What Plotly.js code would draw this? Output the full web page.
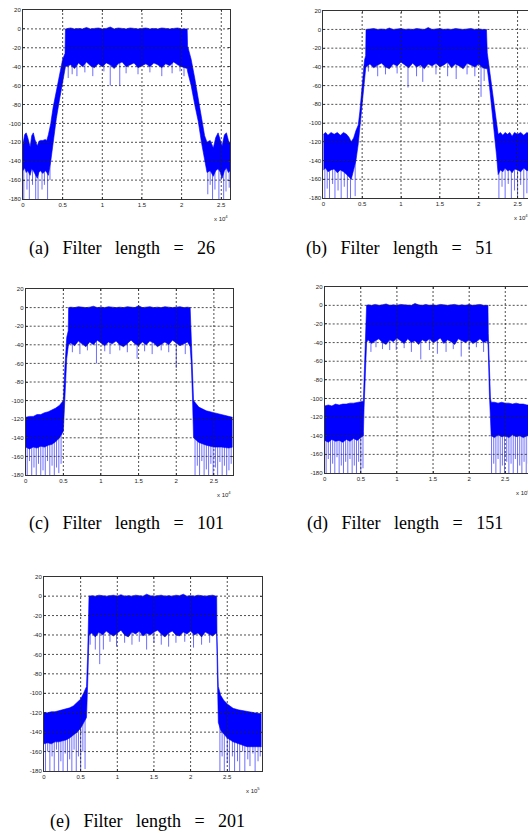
<!DOCTYPE html>
<html>
<head>
<meta charset="utf-8">
<script src="https://cdn.plot.ly/plotly-3.0.1.min.js"></script>
<style>
html,body{margin:0;padding:0;overflow:hidden;background:#fff;}
#plot{width:560px;height:833px;}
</style>
</head>
<body>
<div id="plot"></div>
<script>
// ---------- DATA (x in axis units, y in dB) ----------
var xTickVals = [0, 0.5, 1, 1.5, 2, 2.5];
var xTickText = ['0', '0.5', '1', '1.5', '2', '2.5'];
var yTickVals = [-180, -160, -140, -120, -100, -80, -60, -40, -20, 0, 20];
var yTickText = ['-180', '-160', '-140', '-120', '-100', '-80', '-60', '-40', '-20', '0', '20'];
var captions = ['(a)', '(b)', '(c)', '(d)', '(e)'];
var filterLengths = ['26', '51', '101', '151', '201'];
var exponents = ['4', '4', '4', '4', '5'];

// Panel (a): filter length 26
var aX = [0,0.02,0.04,0.06,0.09,0.11,0.13,0.15,0.18,0.2,0.22,0.25,0.28,0.3,
  0.32,0.35,0.38,0.42,0.46,0.5,0.53,
  0.535,0.6,0.65,0.7,0.75,0.8,0.85,0.9,0.95,1.0,1.05,1.1,1.15,1.2,1.25,1.3,1.35,1.4,1.45,1.5,1.55,1.6,1.65,1.7,1.75,1.8,1.85,1.9,1.95,2.0,2.05,
  2.07,2.075,
  2.12,2.165,2.21,2.25,2.29,
  2.32,2.36,2.4,2.43,2.46,2.49,2.51,2.54,2.565,2.59,2.61];
var aUp = [-122,-112,-110,-115,-125,-113,-110,-117,-124,-119,-118,-118,-117,-118,
  -112,-100,-83,-65,-47,-32,-26,
  0,1,0,0.5,0,1.5,0,0.5,1,0,0.5,2,0,1,0.5,0,1,0.5,0,0.5,1,0,0.5,0,1,0.5,0,0.5,1,0,0,
  0,-18,
  -32,-52,-74,-98,-113,
  -120,-118,-126,-115,-110,-118,-124,-112,-110,-118,-121];
var aLo = [-150,-147,-152,-150,-155,-148,-150,-153,-158,-152,-150,-153,-150,-152,
  -155,-140,-118,-95,-75,-55,-44,
  -40,-38,-42,-36,-40,-35,-39,-41,-37,-40,-36,-38,-42,-37,-35,-40,-38,-36,-41,-39,-37,-40,-36,-38,-41,-37,-39,-35,-38,-40,-42,
  -42,-45,
  -60,-80,-98,-120,-140,
  -152,-150,-156,-150,-148,-152,-158,-150,-147,-152,-150];
var aSpX = [0.01,0.05,0.08,0.12,0.16,0.19,0.24,0.27,0.31,0.34,
  0.57,0.62,0.68,0.78,0.88,1.02,1.10,1.22,1.3,1.45,1.6,1.75,1.88,1.98,2.03,
  2.33,2.36,2.39,2.42,2.47,2.5,2.53,2.56,2.6];
var aSpY = [-180,-170,-180,-165,-180,-180,-170,-165,-180,-160,
  -52,-48,-50,-46,-50,-45,-60,-60,-47,-48,-46,-50,-47,-45,-50,
  -175,-165,-180,-170,-180,-160,-180,-172,-168];

// Panel (b): filter length 51
var bX = [0,0.03,0.06,0.1,0.14,0.18,0.22,0.26,0.3,0.33,0.36,0.39,0.42,0.45,
  0.47,0.49,0.51,0.53,0.545,
  0.55,0.6,0.65,0.7,0.75,0.8,0.85,0.9,0.95,1.0,1.05,1.1,1.15,1.2,1.25,1.3,1.35,1.4,1.45,1.5,1.55,1.6,1.65,1.7,1.75,1.8,1.85,1.9,1.95,2.0,2.05,2.1,
  2.11,2.14,2.17,2.2,2.23,2.25,
  2.28,2.31,2.34,2.37,2.4,2.43,2.46,2.5,2.54,2.58,2.62,2.66];
var bUp = [-112,-110,-113,-110,-112,-110,-113,-110,-112,-115,-120,-116,-108,-102,
  -88,-68,-48,-33,-28,
  0,0.5,1,0,0.5,0,1.5,0,0.5,1,0,0.5,0,1,0.5,0,2,0,0.5,1,0,0.5,0,1,0.5,0,0.5,1,0,0.5,0,0,
  -25,-45,-65,-85,-105,-112,
  -110,-113,-110,-112,-110,-114,-110,-112,-110,-113,-110,-112];
var bLo = [-150,-148,-152,-150,-149,-153,-150,-152,-155,-158,-160,-150,-140,-122,
  -105,-85,-65,-48,-42,
  -40,-37,-41,-38,-36,-40,-42,-37,-39,-35,-38,-41,-36,-40,-38,-42,-37,-39,-36,-40,-38,-35,-41,-37,-39,-42,-36,-38,-40,-37,-41,-42,
  -42,-62,-85,-105,-135,-155,
  -150,-152,-148,-151,-150,-153,-149,-150,-152,-148,-151,-150];
var bSpX = [0.02,0.05,0.08,0.12,0.15,0.19,0.23,0.27,0.31,0.35,0.41,
  0.58,0.7,0.8,0.95,1.09,1.2,1.28,1.45,1.6,1.71,1.85,1.95,2.03,2.07,
  2.26,2.3,2.34,2.38,2.42,2.46,2.5,2.54,2.58,2.62];
var bSpY = [-180,-170,-180,-165,-180,-172,-180,-168,-180,-180,-178,
  -45,-50,-48,-47,-62,-50,-56,-48,-50,-53,-48,-50,-72,-55,
  -180,-168,-180,-165,-180,-172,-180,-166,-180,-175];

// Panel (c): filter length 101
var cX = [0,0.05,0.1,0.15,0.2,0.25,0.3,0.35,0.4,0.45,0.5,
  0.52,0.545,0.565,
  0.57,0.6,0.65,0.7,0.75,0.8,0.85,0.9,0.95,1.0,1.05,1.1,1.15,1.2,1.25,1.3,1.35,1.4,1.45,1.5,1.55,1.6,1.65,1.7,1.75,1.8,1.85,1.9,1.95,2.0,2.05,2.1,2.15,2.185,
  2.2,2.215,2.23,
  2.3,2.4,2.5,2.6,2.7,2.75];
var cUp = [-118,-117,-117,-115,-115,-113,-112,-110,-108,-105,-100,
  -65,-32,-25,
  0,0.5,0,1,0.5,0,0.5,1.5,0,0.5,0,1,0.5,0,0.5,0,1,0.5,0,2,0,0.5,1,0,0.5,0,1,0.5,0,0.5,1,0,0.5,0,
  -35,-65,-100,
  -107,-111,-113,-115,-117,-118];
var cLo = [-150,-152,-150,-151,-149,-150,-148,-147,-144,-140,-133,
  -100,-55,-42,
  -40,-38,-41,-36,-39,-42,-37,-40,-35,-38,-41,-37,-39,-36,-40,-42,-38,-35,-39,-41,-37,-40,-36,-38,-42,-39,-37,-40,-35,-38,-41,-39,-37,-42,
  -60,-95,-140,
  -145,-148,-150,-150,-151,-150];
var cSpX = [0.02,0.05,0.08,0.11,0.14,0.17,0.2,0.23,0.26,0.29,0.32,0.35,0.38,0.41,0.44,0.47,
  0.62,0.72,0.82,0.94,1.05,1.12,1.25,1.35,1.48,1.58,1.68,1.8,1.9,2.0,2.12,
  2.25,2.28,2.31,2.34,2.37,2.4,2.43,2.46,2.49,2.52,2.55,2.58,2.61,2.64,2.67,2.7,2.73];
var cSpY = [-180,-165,-180,-172,-180,-168,-180,-175,-180,-165,-180,-170,-180,-172,-178,-168,
  -48,-50,-46,-60,-47,-50,-46,-48,-55,-47,-50,-46,-48,-65,-50,
  -180,-170,-180,-165,-180,-174,-180,-168,-180,-172,-180,-166,-180,-170,-180,-175,-168];

// Panel (d): filter length 151
var dX = [0,0.05,0.1,0.15,0.2,0.25,0.3,0.35,0.4,0.45,0.5,0.535,
  0.545,0.56,0.575,
  0.58,0.6,0.65,0.7,0.75,0.8,0.85,0.9,0.95,1.0,1.05,1.1,1.15,1.2,1.25,1.3,1.35,1.4,1.45,1.5,1.55,1.6,1.65,1.7,1.75,1.8,1.85,1.9,1.95,2.0,2.05,2.1,2.15,2.2,2.25,2.26,
  2.265,2.28,2.295,
  2.305,2.35,2.4,2.45,2.5,2.55,2.6,2.65,2.7,2.75,2.8,2.87];
var dUp = [-108,-107,-108,-106,-107,-106,-106,-105,-105,-104,-103,-103,
  -80,-50,-28,
  0,0.5,0,1,0,0.5,1.5,0,0.5,0,1,0.5,0,0,2,0.5,0,1,0,0.5,0,1,0.5,0,0.5,1,0,0.5,0,1,0,0.5,1,0,0.5,0,
  -30,-70,-100,
  -104,-104,-105,-104,-105,-105,-106,-105,-106,-106,-107,-107];
var dLo = [-145,-147,-144,-146,-145,-147,-144,-146,-143,-145,-142,-140,
  -110,-75,-45,
  -40,-37,-41,-38,-36,-40,-42,-37,-39,-35,-38,-41,-36,-40,-38,-42,-37,-39,-36,-40,-38,-35,-41,-37,-39,-42,-36,-38,-40,-37,-41,-39,-36,-40,-38,-42,
  -50,-95,-135,
  -140,-142,-139,-141,-140,-142,-139,-141,-140,-142,-140,-141];
var dSpX = [0.02,0.05,0.08,0.11,0.14,0.17,0.2,0.23,0.26,0.29,0.32,0.35,0.38,0.41,0.44,0.47,0.5,0.53,
  0.64,0.71,0.8,0.9,0.99,1.1,1.2,1.33,1.45,1.56,1.68,1.78,1.89,2.0,2.1,2.2,
  2.31,2.34,2.37,2.4,2.43,2.46,2.49,2.52,2.55,2.58,2.61,2.64,2.67,2.7,2.73,2.76,2.79,2.82,2.85];
var dSpY = [-180,-165,-180,-170,-180,-163,-180,-172,-180,-168,-180,-165,-180,-172,-180,-168,-180,-175,
  -50,-45,-47,-48,-48,-46,-50,-58,-48,-52,-50,-47,-55,-48,-45,-50,
  -180,-170,-180,-165,-180,-172,-180,-168,-180,-170,-180,-165,-180,-172,-180,-168,-180,-170,-178];

// Panel (e): filter length 201
var eX = [0,0.05,0.1,0.15,0.2,0.25,0.3,0.35,0.4,0.45,0.5,0.54,0.58,
  0.596,0.61,
  0.614,0.65,0.7,0.75,0.8,0.85,0.9,0.95,1.0,1.05,1.1,1.15,1.2,1.25,1.3,1.35,1.4,1.45,1.5,1.55,1.6,1.65,1.7,1.75,1.8,1.85,1.9,1.95,2.0,2.05,2.1,2.15,2.2,2.25,2.3,2.35,2.356,
  2.36,2.378,
  2.41,2.45,2.5,2.58,2.65,2.77,2.87,2.97];
var eUp = [-120,-120,-119,-119,-118,-117,-116,-115,-113,-110,-106,-100,-93,
  -59,-25,
  0,0.5,0,1,0.5,0,0.5,1,0,1.5,0,0.5,0,1,0.5,0,2,0.5,0,0.5,1,0,0.5,0,1,0.5,2,0,0.5,0,1,0.5,0,0.5,1,0,0,
  -40,-93,
  -102,-107,-111,-115.5,-117,-119,-120,-121];
var eLo = [-152,-151,-152,-150,-150,-149,-148,-146,-143,-140,-136,-131,-125,
  -90,-45,
  -40,-38,-42,-37,-40,-36,-39,-41,-38,-35,-40,-42,-37,-39,-36,-41,-38,-40,-37,-35,-39,-42,-38,-36,-40,-41,-37,-39,-36,-40,-38,-42,-37,-39,-41,-38,-40,
  -60,-130,
  -138,-142,-146,-150,-152,-155,-155,-155];
var eSpX = [0.02,0.05,0.08,0.11,0.14,0.17,0.2,0.23,0.26,0.29,0.32,0.35,0.38,0.41,0.44,0.47,0.5,0.53,0.56,
  0.63,0.7,0.76,0.81,0.9,0.99,1.1,1.2,1.3,1.4,1.5,1.6,1.7,1.8,1.92,2.04,2.15,2.26,
  2.4,2.43,2.46,2.5,2.53,2.57,2.6,2.64,2.67,2.71,2.74,2.78,2.81,2.85,2.88,2.92,2.95];
var eSpY = [-180,-160,-180,-165,-180,-158,-180,-170,-180,-162,-180,-168,-180,-158,-180,-165,-180,-160,-178,
  -50,-55,-70,-55,-47,-52,-48,-50,-47,-55,-48,-50,-52,-48,-47,-53,-50,-48,
  -180,-165,-180,-172,-180,-165,-180,-170,-180,-160,-180,-168,-175,-162,-180,-170,-165];

// ---------- LAYOUT / STYLE ----------
var W = 560, H = 833;
var panels = [
  {X:aX, up:aUp, lo:aLo, sx:aSpX, sy:aSpY, xr:2.61, box:[23,230,10,199],     cap:[122,248.3]},
  {X:bX, up:bUp, lo:bLo, sx:bSpX, sy:bSpY, xr:2.66, box:[323.3,530,10.7,198], cap:[399,248.3]},
  {X:cX, up:cUp, lo:cLo, sx:cSpX, sy:cSpY, xr:2.75, box:[25.7,232.7,289,475], cap:[126,523.5]},
  {X:dX, up:dUp, lo:dLo, sx:dSpX, sy:dSpY, xr:2.87, box:[324.7,532,286.7,473], cap:[405,523.5]},
  {X:eX, up:eUp, lo:eLo, sx:eSpX, sy:eSpY, xr:2.97, box:[44,261.7,576.7,771], cap:[147,821.5]}
];

function interp(xs, ys, x) {
  for (var i = 0; i < xs.length - 1; i++) {
    if (x >= xs[i] && x <= xs[i+1]) {
      var t = (x - xs[i]) / (xs[i+1] - xs[i]);
      return ys[i] + t * (ys[i+1] - ys[i]);
    }
  }
  return ys[ys.length - 1];
}

var traces = [];
var layout = {
  width: W, height: H,
  margin: {l:0, r:0, t:0, b:0},
  paper_bgcolor: '#fff', plot_bgcolor: '#fff',
  showlegend: false,
  shapes: [], annotations: []
};
var tickFont = {family: 'Liberation Sans, Arial, sans-serif', size: 6, color: '#222'};
var capFont = {family: 'Liberation Serif, Times New Roman, serif', size: 18, color: '#000'};
var SP = ' \u2002';

panels.forEach(function(p, i) {
  var n = i === 0 ? '' : String(i + 1);
  var xa = 'x' + n, ya = 'y' + n;
  // spikes (deep nulls)
  var spx = [], spy = [];
  for (var k = 0; k < p.sx.length; k++) {
    var base = interp(p.X, p.lo, p.sx[k]) + 4;
    spx.push(p.sx[k], p.sx[k], null);
    spy.push(base, p.sy[k], null);
  }
  traces.push({x: spx, y: spy, xaxis: xa, yaxis: ya, mode: 'lines',
    line: {color: '#6e6eff', width: 1}, hoverinfo: 'skip'});
  traces.push({x: p.X, y: p.lo, xaxis: xa, yaxis: ya, mode: 'lines',
    line: {color: '#0000ff', width: 0.6}, hoverinfo: 'skip'});
  traces.push({x: p.X, y: p.up, xaxis: xa, yaxis: ya, mode: 'lines',
    fill: 'tonexty', fillcolor: '#0000ff',
    line: {color: '#0000ff', width: 0.6}, hoverinfo: 'skip'});

  var b = p.box;
  var axCommon = {
    showline: true, mirror: 'ticks', linecolor: '#333', linewidth: 1,
    ticks: 'inside', ticklen: 2, tickcolor: '#333', tickwidth: 0.8,
    showgrid: false, zeroline: false, tickfont: tickFont, fixedrange: true
  };
  layout['xaxis' + n] = Object.assign({}, axCommon, {
    domain: [b[0] / W, b[1] / W], anchor: ya,
    range: [0, p.xr], tickmode: 'array', tickvals: xTickVals, ticktext: xTickText
  });
  layout['yaxis' + n] = Object.assign({}, axCommon, {
    domain: [1 - b[3] / H, 1 - b[2] / H], anchor: xa,
    range: [-180, 20], tickmode: 'array', tickvals: yTickVals, ticktext: yTickText
  });
  // dotted grid drawn above the data
  xTickVals.forEach(function(v) {
    if (v <= 0 || v >= p.xr) return;
    layout.shapes.push({type: 'line', layer: 'above', xref: xa, yref: ya + ' domain',
      x0: v, x1: v, y0: 0, y1: 1, line: {color: '#222', width: 0.8, dash: '2px,2px'}});
  });
  yTickVals.forEach(function(v) {
    if (v <= -180 || v >= 20) return;
    layout.shapes.push({type: 'line', layer: 'above', xref: xa + ' domain', yref: ya,
      x0: 0, x1: 1, y0: v, y1: v, line: {color: '#222', width: 0.8, dash: '2px,2px'}});
  });
  // exponent label
  layout.annotations.push({xref: xa + ' domain', yref: ya + ' domain', x: 1, y: 0,
    xanchor: 'right', yanchor: 'top', yshift: -13, showarrow: false,
    text: 'x 10<sup>' + exponents[i] + '</sup>', font: tickFont});
  // caption
  layout.annotations.push({xref: 'paper', yref: 'paper', x: p.cap[0] / W, y: 1 - p.cap[1] / H,
    xanchor: 'center', yanchor: 'middle', showarrow: false,
    text: captions[i] + SP + 'Filter' + SP + 'length' + SP + '=' + SP + filterLengths[i],
    font: capFont});
});

Plotly.newPlot('plot', traces, layout, {staticPlot: true, displayModeBar: false});
</script>
</body>
</html>
